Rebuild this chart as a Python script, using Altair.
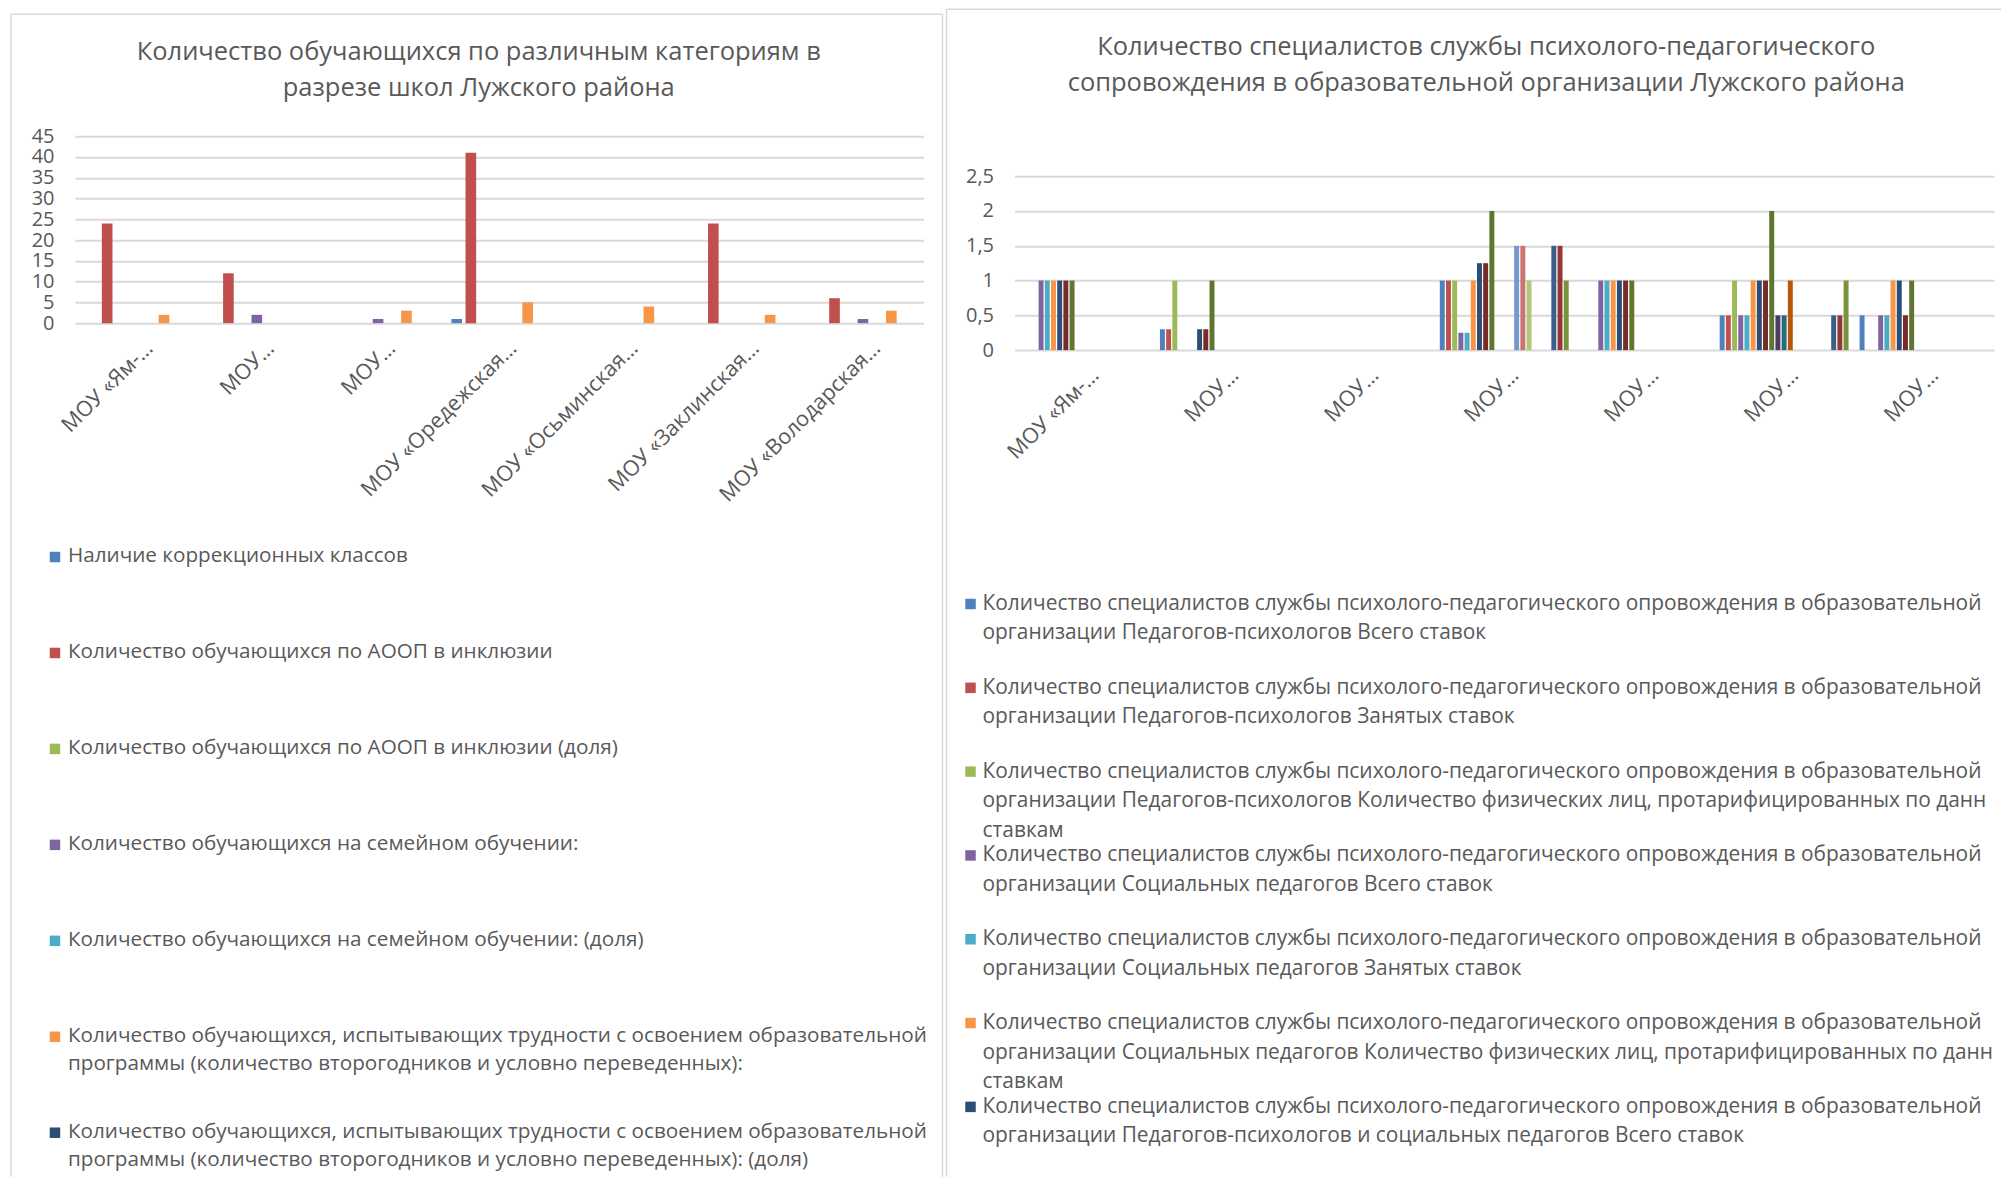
import json
import altair as alt
import pandas as pd

# ---------------- left chart data ----------------
left_schools = ["МОУ «Ям-…", "МОУ…", "МОУ…", "МОУ «Оредежская…",
                "МОУ «Осьминская…", "МОУ «Заклинская…", "МОУ «Володарская…"]
left_series = [
    "Наличие коррекционных классов",
    "Количество обучающихся по АООП в инклюзии",
    "Количество обучающихся по АООП в инклюзии (доля)",
    "Количество обучающихся на семейном обучении:",
    "Количество обучающихся на семейном обучении: (доля)",
    "Количество обучающихся, испытывающих трудности с освоением образовательной программы (количество второгодников и условно переведенных):",
    "Количество обучающихся, испытывающих трудности с освоением образовательной программы (количество второгодников и условно переведенных): (доля)",
]
left_legend_text = [
    "Наличие коррекционных классов",
    "Количество обучающихся по АООП в инклюзии",
    "Количество обучающихся по АООП в инклюзии (доля)",
    "Количество обучающихся на семейном обучении:",
    "Количество обучающихся на семейном обучении: (доля)",
    "Количество обучающихся, испытывающих трудности с освоением образовательной\nпрограммы (количество второгодников и условно переведенных):",
    "Количество обучающихся, испытывающих трудности с освоением образовательной\nпрограммы (количество второгодников и условно переведенных): (доля)",
]
left_colors = ["#4F81BD", "#C0504D", "#9BBB59", "#8064A2", "#4BACC6", "#F79646", "#2C4D75"]
left_correction = [0, 0, 0, 1, 0, 0, 0]
left_aoop = [24, 12, 0, 41, 0, 24, 6]
left_aoop_share = [0, 0, 0, 0, 0, 0, 0]
left_family = [0, 2, 1, 0, 0, 0, 1]
left_family_share = [0, 0, 0, 0, 0, 0, 0]
left_difficult = [2, 0, 3, 5, 4, 2, 3]
left_difficult_share = [0, 0, 0, 0, 0, 0, 0]
left_values = [left_correction, left_aoop, left_aoop_share, left_family,
               left_family_share, left_difficult, left_difficult_share]
left_title = "Количество обучающихся по различным категориям  в\nразрезе школ Лужского района"
left_ticks = [0, 5, 10, 15, 20, 25, 30, 35, 40, 45]

# ---------------- right chart data ----------------
right_schools = ["МОУ «Ям-…", "МОУ…", "МОУ…", "МОУ…", "МОУ…", "МОУ…", "МОУ…"]
right_prefix = "Количество специалистов службы психолого-педагогического опровождения в образовательной организации "
right_suffixes = [
    "Педагогов-психологов Всего ставок",
    "Педагогов-психологов Занятых ставок",
    "Педагогов-психологов Количество физических лиц, протарифицированных по данным ставкам",
    "Социальных педагогов Всего ставок",
    "Социальных педагогов Занятых ставок",
    "Социальных педагогов Количество физических лиц, протарифицированных по данным ставкам",
    "Педагогов-психологов и социальных педагогов Всего ставок",
    "Педагогов-психологов и социальных педагогов Занятых ставок",
    "Педагогов-психологов и социальных педагогов Количество физических лиц, протарифицированных по данным ставкам",
    "Ряд10", "Ряд11", "Ряд12", "Ряд13", "Ряд14", "Ряд15",
    "Ряд16", "Ряд17", "Ряд18", "Ряд19", "Ряд20", "Ряд21",
]
right_legend_text = [
    "Количество специалистов службы психолого-педагогического опровождения в образовательной\nорганизации Педагогов-психологов Всего ставок",
    "Количество специалистов службы психолого-педагогического опровождения в образовательной\nорганизации Педагогов-психологов Занятых ставок",
    "Количество специалистов службы психолого-педагогического опровождения в образовательной\nорганизации Педагогов-психологов Количество физических лиц, протарифицированных по данным\nставкам",
    "Количество специалистов службы психолого-педагогического опровождения в образовательной\nорганизации Социальных педагогов Всего ставок",
    "Количество специалистов службы психолого-педагогического опровождения в образовательной\nорганизации Социальных педагогов Занятых ставок",
    "Количество специалистов службы психолого-педагогического опровождения в образовательной\nорганизации Социальных педагогов Количество физических лиц, протарифицированных по данным\nставкам",
    "Количество специалистов службы психолого-педагогического опровождения в образовательной\nорганизации Педагогов-психологов и социальных педагогов Всего ставок",
]
right_colors = ["#4F81BD", "#C0504D", "#9BBB59", "#8064A2", "#4BACC6", "#F79646",
                "#2C4D75", "#772C2A", "#5F7530", "#4D3B62", "#276A7C", "#B65708",
                "#729ACA", "#CD7371", "#AFC97A", "#9983B5", "#6FBDD1", "#F9AB6B",
                "#3A5F8B", "#953735", "#77933C"]
right_values = [
    [0, 0.3, 0, 1, 0, 0.5, 0.5],
    [0, 0.3, 0, 1, 0, 0.5, 0],
    [0, 1, 0, 1, 0, 1, 0],
    [1, 0, 0, 0.25, 1, 0.5, 0.5],
    [1, 0, 0, 0.25, 1, 0.5, 0.5],
    [1, 0, 0, 1, 1, 1, 1],
    [1, 0.3, 0, 1.25, 1, 1, 1],
    [1, 0.3, 0, 1.25, 1, 1, 0.5],
    [1, 1, 0, 2, 1, 2, 1],
    [0, 0, 0, 0, 0, 0.5, 0],
    [0, 0, 0, 0, 0, 0.5, 0],
    [0, 0, 0, 0, 0, 1, 0],
    [0, 0, 0, 1.5, 0, 0, 0],
    [0, 0, 0, 1.5, 0, 0, 0],
    [0, 0, 0, 1, 0, 0, 0],
    [0, 0, 0, 0, 0, 0, 0],
    [0, 0, 0, 0, 0, 0, 0],
    [0, 0, 0, 0, 0, 0, 0],
    [0, 0, 0, 1.5, 0, 0.5, 0],
    [0, 0, 0, 1.5, 0, 0.5, 0],
    [0, 0, 0, 1, 0, 1, 0],
]
right_title = "Количество специалистов службы психолого-педагогического\nсопровождения в образовательной организации Лужского  района"
right_ticks = [0, 0.5, 1, 1.5, 2, 2.5]

FONT = "Open Sans"
GRAY = "#595959"
GRID = "#d9d9d9"


def long_df(values, names, outer, bar_frac):
    """Clustered layout in category units: each school occupies [c, c+1]."""
    n = len(values)
    slot = (1 - 2 * outer) / n
    rows = []
    for sid, vals in enumerate(values):
        for school, v in enumerate(vals):
            x0 = school + outer + sid * slot + slot * (1 - bar_frac) / 2
            rows.append({"school": school, "sid": sid, "series": names[sid], "value": v, "base": 0,
                         "x": x0, "x2": x0 + slot * bar_frac})
    return pd.DataFrame(rows)


def panel(values, names, schools, colors, legend_text, ticks, ydomain, width, height,
          yrange, outer, bar_frac, label_offset, title, title_xy, title_fs,
          frame, leg_sq_x, leg_tx_x, leg_range, leg_lh, leg_fs, leg_limit):
    df = long_df(values, names, outer, bar_frac)
    n = len(values)
    k = len(schools)
    color = alt.Color("sid:O", scale=alt.Scale(domain=list(range(n)), range=colors), legend=None)
    bars = alt.Chart(df).mark_bar().encode(
        x=alt.X("x:Q", title=None,
                scale=alt.Scale(domain=[0, k], nice=False, zero=False, padding=0),
                axis=alt.Axis(values=[c + 0.5 for c in range(k)], labelAngle=-45,
                              labelExpr=json.dumps(schools, ensure_ascii=False) + "[floor(datum.value)]",
                              labelOffset=label_offset, labelPadding=14, ticks=False, domain=False, grid=False,
                              labelFont=FONT, labelFontSize=21.5, labelColor=GRAY, labelFlush=False,
                              labelOverlap=False, labelLimit=400)),
        x2="x2:Q",
        y=alt.Y("value:Q", title=None,
                scale=alt.Scale(domain=ydomain, range=yrange, nice=False, zero=True, padding=0),
                axis=alt.Axis(values=ticks, labelExpr="replace(toString(datum.value), '.', ',')",
                              ticks=False, domain=False, grid=True, gridColor=GRID, gridWidth=2,
                              labelOverlap=False, labelFlush=False,
                              labelPadding=21, labelFont=FONT, labelFontSize=20, labelColor=GRAY)),
        y2="base:Q",
        color=color,
    )
    one = pd.DataFrame({"k": [0]})
    fx1, fx2, fy1, fy2, has_right = frame
    layers = [
        alt.Chart(one).mark_rule(color=GRID, strokeWidth=1.5).encode(
            x=alt.value(fx1), x2=alt.value(fx2), y=alt.value(fy1)),
        alt.Chart(one).mark_rule(color=GRID, strokeWidth=1.5).encode(
            x=alt.value(fx1), y=alt.value(fy1), y2=alt.value(fy2)),
    ]
    if has_right:
        layers.append(alt.Chart(one).mark_rule(color=GRID, strokeWidth=1.5).encode(
            x=alt.value(fx2), y=alt.value(fy1), y2=alt.value(fy2)))
    layers.append(alt.Chart(one).mark_text(
        align="center", baseline="middle", lineBreak="\n", lineHeight=36,
        font=FONT, fontSize=title_fs, color=GRAY).encode(
        x=alt.value(title_xy[0]), y=alt.value(title_xy[1]), text=alt.value(title)))
    layers.append(bars)
    leg_df = pd.DataFrame({"i": list(range(len(legend_text))), "sid": list(range(len(legend_text))),
                           "text": legend_text})
    leg_y = alt.Y("i:Q", scale=alt.Scale(domain=[0, len(legend_text)], range=leg_range, nice=False, zero=False),
                  axis=None)
    layers.append(alt.Chart(leg_df).mark_square(size=110, yOffset=11, opacity=1).encode(
        x=alt.value(leg_sq_x), y=leg_y, color=color))
    layers.append(alt.Chart(leg_df).mark_text(
        align="left", baseline="top", lineBreak="\n", lineHeight=leg_lh, font=FONT,
        fontSize=leg_fs, color=GRAY, limit=leg_limit, ellipsis="\u200b").encode(
        x=alt.value(leg_tx_x), y=leg_y, text="text:N"))
    return alt.layer(*layers).resolve_scale(y="independent").properties(width=width, height=height)


left = panel(left_values, left_series, left_schools, left_colors, left_legend_text, left_ticks,
             [0, 45], 849, 187, [187, 0], 0.09, 0.75, 6,
             left_title, (404, -84), 25.5,
             (-64, 868, -122, 1041, True), -20, -7, [410, 1082], 28.5, 20.7, 873)

right = panel(right_values, [right_prefix + s for s in right_suffixes], right_schools, right_colors,
              right_legend_text, right_ticks, [0, 2.5], 980, 214, [214, 40], 0.035, 0.8, 3,
              right_title, (472, -89), 25.5,
              (-68, 987, -127, 1041, False), -44, -32, [457, 1044], 29.5, 20.9, 1019)

chart = alt.hconcat(left, right, spacing=2).resolve_scale(color="independent").properties(
    padding={"left": 2, "top": 0, "right": 0, "bottom": 0}
).configure_view(stroke=None)

chart.save("out.html", embed_options={"renderer": "svg", "actions": False})
